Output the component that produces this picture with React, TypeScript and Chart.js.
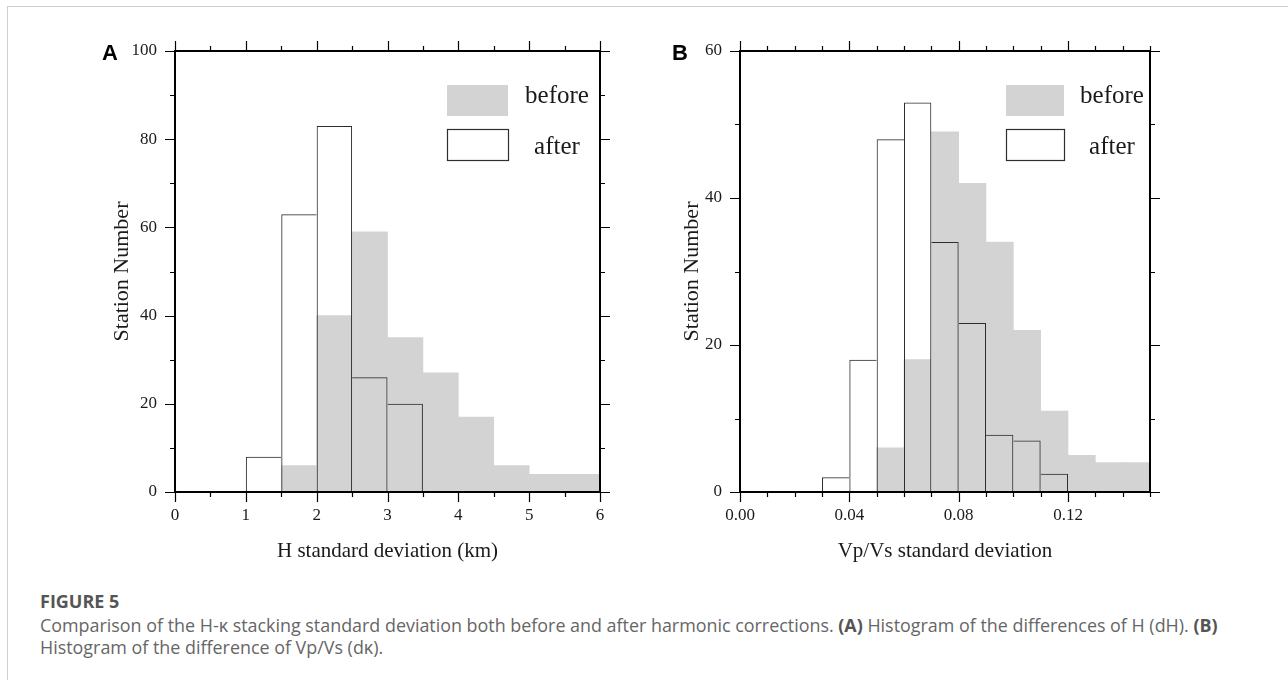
import React, { useEffect, useRef } from 'react';
import { Chart, registerables } from 'chart.js';

Chart.register(...registerables);

// ---------- Data ----------
// Panel A: H standard deviation (km), bins of 0.5 km
const A_BIN_STARTS = [0, 0.5, 1, 1.5, 2, 2.5, 3, 3.5, 4, 4.5, 5, 5.5];
const A_BIN_WIDTH = 0.5;
const A_BEFORE = [0, 0, 0, 6, 40, 59, 35, 27, 17, 6, 4, 4];
const A_AFTER = [0, 0, 8, 63, 83, 26, 20, 0, 0, 0, 0, 0];
const A_X_LABELS = ['0', '1', '2', '3', '4', '5', '6'];
const A_Y_LABELS = ['0', '20', '40', '60', '80', '100'];

// Panel B: Vp/Vs standard deviation, bins of 0.01
const B_BIN_STARTS = [0, 0.01, 0.02, 0.03, 0.04, 0.05, 0.06, 0.07, 0.08, 0.09, 0.1, 0.11, 0.12, 0.13, 0.14];
const B_BIN_WIDTH = 0.01;
const B_BEFORE = [0, 0, 0, 0, 0, 6, 18, 49, 42, 34, 22, 11, 5, 4, 4];
const B_AFTER = [0, 0, 0, 2, 18, 48, 53, 34, 23, 7.8, 7, 2.5, 0, 0, 0];
const B_X_LABELS = ['0.00', '0.04', '0.08', '0.12'];
const B_Y_LABELS = ['0', '20', '40', '60'];

const SERIES_NAMES = ['before', 'after'];

// ---------- Styles ----------
const SERIF = '"Liberation Serif", "Times New Roman", Times, serif';
const BEFORE_FILL = '#d3d3d3';
const AFTER_LINE = '#2e2e2e';
const TEXT = '#1a1a1a';

const findLabel = (labels: string[], value: number) => {
  const hit = labels.find((l) => Math.abs(parseFloat(l) - value) < 1e-6);
  return hit === undefined ? '' : hit;
};

// Frame + outward tick marks on all four sides, from the scales' own ticks
const frameTicks = {
  id: 'frameTicks',
  afterDatasetsDraw(chart: any, _args: any, opts: any) {
    const { ctx, chartArea } = chart;
    const { left, right, top, bottom } = chartArea;
    const xs = chart.scales.x;
    const ys = chart.scales.y;
    ctx.save();
    ctx.strokeStyle = '#000';
    ctx.lineWidth = 1.2;
    const major = opts.major || 10;
    const minor = opts.minor || 5;
    xs.ticks.forEach((t: any) => {
      const px = Math.round(xs.getPixelForValue(t.value)) + 0.5;
      const len = findLabel(opts.xLabels, t.value) !== '' ? major : minor;
      ctx.beginPath();
      ctx.moveTo(px, bottom);
      ctx.lineTo(px, bottom + len);
      ctx.moveTo(px, top);
      ctx.lineTo(px, top - len);
      ctx.stroke();
    });
    ys.ticks.forEach((t: any) => {
      const py = Math.round(ys.getPixelForValue(t.value)) + 0.5;
      const len = findLabel(opts.yLabels, t.value) !== '' ? major : minor;
      ctx.beginPath();
      ctx.moveTo(left, py);
      ctx.lineTo(left - len, py);
      ctx.moveTo(right, py);
      ctx.lineTo(right + len, py);
      ctx.stroke();
    });
    ctx.lineWidth = 2;
    ctx.strokeRect(left, top, right - left, bottom - top);
    ctx.restore();
  },
};

// Legend boxes drawn inside the plot area, top-right
const boxLegend = {
  id: 'boxLegend',
  afterDraw(chart: any, _args: any, opts: any) {
    const { ctx, chartArea } = chart;
    const { right, top } = chartArea;
    ctx.save();
    chart.data.datasets.forEach((ds: any, i: number) => {
      const bx = right - opts.boxFromRight;
      const by = top + opts.rowTops[i];
      const bw = opts.boxWidth;
      const bh = opts.boxHeight;
      if (ds.borderWidth > 0) {
        ctx.fillStyle = '#fff';
        ctx.fillRect(bx, by, bw, bh);
        ctx.strokeStyle = ds.borderColor;
        ctx.lineWidth = 1.2;
        ctx.strokeRect(bx + 0.5, by + 0.5, bw, bh);
      } else {
        ctx.fillStyle = ds.backgroundColor;
        ctx.fillRect(bx, by, bw, bh);
      }
      ctx.fillStyle = TEXT;
      ctx.font = `25px ${SERIF}`;
      ctx.textAlign = 'center';
      ctx.textBaseline = 'alphabetic';
      ctx.fillText(ds.label, right - opts.textFromRight, top + opts.baselines[i]);
    });
    ctx.restore();
  },
};

type PanelProps = {
  left: number;
  width: number;
  height: number;
  pad: { left: number; right: number; top: number; bottom: number };
  yScaleWidth: number;
  xScaleHeight: number;
  starts: number[];
  binWidth: number;
  before: number[];
  after: number[];
  xMax: number;
  xStep: number;
  yMax: number;
  xLabels: string[];
  yLabels: string[];
  xTitle: string;
  legend: any;
};

// Skip the shared side of adjacent outline bars so neighbours draw one line
const afterSkip = (ctx: any) => {
  const d = ctx.dataset.data;
  const i = ctx.dataIndex;
  const cur = d[i] && d[i].y != null ? d[i].y : 0;
  const prev = i > 0 && d[i - 1] && d[i - 1].y != null ? d[i - 1].y : 0;
  const next = i < d.length - 1 && d[i + 1] && d[i + 1].y != null ? d[i + 1].y : 0;
  if (prev > 0 && prev >= cur) return 'left';
  if (next > cur) return 'right';
  return 'bottom';
};

function Histogram(p: PanelProps) {
  const ref = useRef<HTMLCanvasElement | null>(null);
  useEffect(() => {
    if (!ref.current) return;
    const toPoints = (vals: number[]) =>
      p.starts.map((s, i) => ({ x: s + p.binWidth / 2, y: vals[i] > 0 ? vals[i] : null }));
    const chart = new Chart(ref.current, {
      type: 'bar',
      data: {
        datasets: [
          {
            label: SERIES_NAMES[0],
            data: toPoints(p.before) as any,
            backgroundColor: BEFORE_FILL,
            borderWidth: 0,
            order: 2,
            grouped: false,
            barPercentage: 1,
            categoryPercentage: 1,
          } as any,
          {
            label: SERIES_NAMES[1],
            data: toPoints(p.after) as any,
            backgroundColor: 'rgba(255,255,255,0)',
            borderColor: AFTER_LINE,
            borderWidth: 1,
            borderSkipped: afterSkip,
            inflateAmount: 0,
            order: 1,
            grouped: false,
            barPercentage: 1,
            categoryPercentage: 1,
          } as any,
        ],
      },
      options: {
        animation: false,
        responsive: false,
        maintainAspectRatio: false,
        layout: { padding: p.pad },
        plugins: {
          legend: { display: false },
          tooltip: { enabled: false },
          frameTicks: { xLabels: p.xLabels, yLabels: p.yLabels, major: 10, minor: 5 },
          boxLegend: p.legend,
        } as any,
        scales: {
          x: {
            type: 'linear',
            min: 0,
            max: p.xMax,
            offset: false,
            grid: { display: false, drawTicks: false, offset: false },
            border: { display: false },
            ticks: {
              stepSize: p.xStep,
              autoSkip: false,
              maxRotation: 0,
              minRotation: 0,
              padding: 13,
              color: TEXT,
              font: { family: SERIF, size: 17 },
              callback: (v: any) => findLabel(p.xLabels, Number(v)),
            },
            title: {
              display: true,
              text: p.xTitle,
              color: TEXT,
              font: { family: SERIF, size: 21 },
              padding: { top: 0, bottom: 8 },
            },
            afterFit: (s: any) => {
              s.height = p.xScaleHeight;
            },
          } as any,
          y: {
            type: 'linear',
            min: 0,
            max: p.yMax,
            grid: { display: false, drawTicks: false },
            border: { display: false },
            ticks: {
              stepSize: 10,
              autoSkip: false,
              padding: 18,
              color: TEXT,
              font: { family: SERIF, size: 17 },
              callback: (v: any) => findLabel(p.yLabels, Number(v)),
            },
            title: {
              display: true,
              text: 'Station Number',
              color: TEXT,
              font: { family: SERIF, size: 22 },
              padding: { top: 9, bottom: 0 },
            },
            afterFit: (s: any) => {
              s.width = p.yScaleWidth;
            },
          } as any,
        },
      },
      plugins: [frameTicks, boxLegend],
    });
    return () => chart.destroy();
  }, []);
  return (
    <canvas
      ref={ref}
      width={p.width}
      height={p.height}
      style={{ position: 'absolute', left: p.left, top: 0, width: p.width, height: p.height }}
    />
  );
}

const letterStyle: React.CSSProperties = {
  position: 'absolute',
  top: 42,
  fontFamily: '"Liberation Sans", Arial, sans-serif',
  fontWeight: 'bold',
  fontSize: 22,
  lineHeight: '22px',
  color: '#000',
};

export default function App() {
  return (
    <div
      style={{
        position: 'absolute',
        left: 0,
        top: 0,
        width: 1288,
        height: 680,
        overflow: 'hidden',
        background: '#fff',
      }}
    >
      <div
        style={{
          position: 'absolute',
          left: 7,
          top: 6,
          width: 1300,
          height: 700,
          border: '1px solid #cfcfcf',
        }}
      />
      <Histogram
        left={0}
        width={640}
        height={580}
        pad={{ left: 100, right: 40, top: 51, bottom: 8 }}
        yScaleWidth={75}
        xScaleHeight={80}
        starts={A_BIN_STARTS}
        binWidth={A_BIN_WIDTH}
        before={A_BEFORE}
        after={A_AFTER}
        xMax={6}
        xStep={0.5}
        yMax={100}
        xLabels={A_X_LABELS}
        yLabels={A_Y_LABELS}
        xTitle="H standard deviation (km)"
        legend={{ boxFromRight: 153, boxWidth: 61, boxHeight: 31, rowTops: [34, 78], textFromRight: 43, baselines: [52, 103] }}
      />
      <Histogram
        left={640}
        width={648}
        height={580}
        pad={{ left: 30, right: 138, top: 51, bottom: 8 }}
        yScaleWidth={70}
        xScaleHeight={80}
        starts={B_BIN_STARTS}
        binWidth={B_BIN_WIDTH}
        before={B_BEFORE}
        after={B_AFTER}
        xMax={0.15}
        xStep={0.01}
        yMax={60}
        xLabels={B_X_LABELS}
        yLabels={B_Y_LABELS}
        xTitle="Vp/Vs standard deviation"
        legend={{ boxFromRight: 144, boxWidth: 58, boxHeight: 31, rowTops: [34, 78], textFromRight: 38, baselines: [52, 103] }}
      />
      <div style={{ ...letterStyle, left: 102 }}>A</div>
      <div style={{ ...letterStyle, left: 672 }}>B</div>
      <div
        style={{
          position: 'absolute',
          left: 40,
          top: 590,
          fontFamily: '"Open Sans", "Noto Sans", sans-serif',
          fontWeight: 'bold',
          fontSize: 18,
          lineHeight: '22px',
          color: '#555',
          whiteSpace: 'nowrap',
        }}
      >
        FIGURE 5
      </div>
      <div
        style={{
          position: 'absolute',
          left: 40,
          top: 614,
          fontFamily: '"Open Sans", "Noto Sans", sans-serif',
          fontSize: 17.9,
          lineHeight: '22px',
          color: '#666',
          whiteSpace: 'nowrap',
        }}
      >
        Comparison of the H-κ stacking standard deviation both before and after harmonic corrections.{' '}
        <b style={{ color: '#555' }}>(A)</b> Histogram of the differences of H (dH). <b style={{ color: '#555' }}>(B)</b>
        <br />
        Histogram of the difference of Vp/Vs (dκ).
      </div>
    </div>
  );
}
